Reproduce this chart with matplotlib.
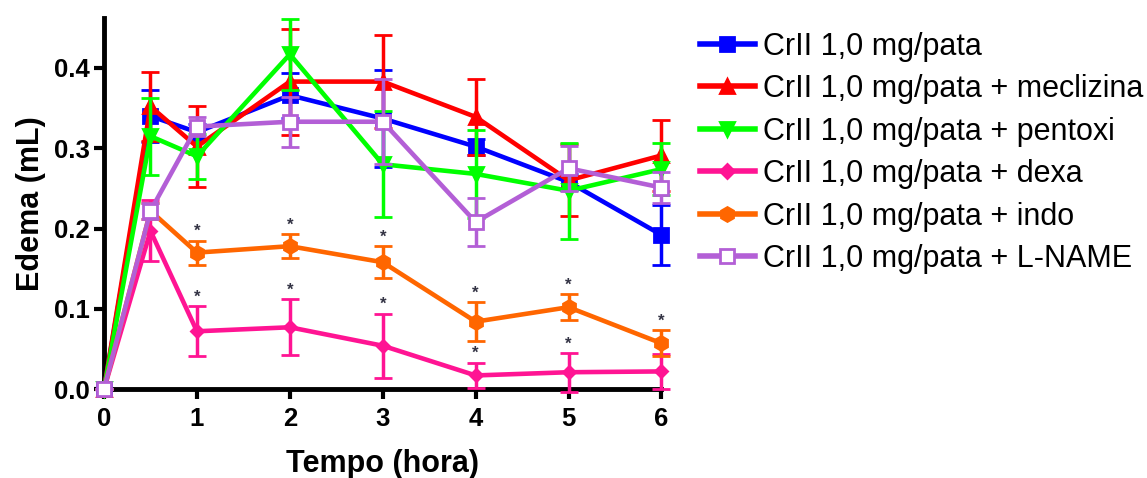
import numpy as np
import matplotlib
matplotlib.use("Agg")
import matplotlib.pyplot as plt

plt.rcParams["font.family"] = ["Liberation Sans", "DejaVu Sans"]

# time points (hours)
tempo = [0, 0.5, 1, 2, 3, 4, 5, 6]

# mean edema (mL) and SEM
crii = [0, 0.340, 0.320, 0.366, 0.337, 0.302, 0.258, 0.192]
crii_sem = [0, 0.032, 0.010, 0.028, 0.060, 0.010, 0.010, 0.037]

mecli = [0, 0.352, 0.302, 0.383, 0.383, 0.339, 0.260, 0.291]
mecli_sem = [0, 0.043, 0.050, 0.066, 0.058, 0.047, 0.045, 0.044]

pento = [0, 0.315, 0.290, 0.417, 0.280, 0.268, 0.247, 0.274]
pento_sem = [0, 0.048, 0.028, 0.044, 0.066, 0.055, 0.060, 0.032]

dexa = [0, 0.197, 0.072, 0.077, 0.054, 0.017, 0.021, 0.022]
dexa_sem = [0, 0.038, 0.031, 0.035, 0.040, 0.016, 0.024, 0.022]

indo = [0, 0.222, 0.170, 0.178, 0.158, 0.084, 0.102, 0.057]
indo_sem = [0, 0.010, 0.015, 0.015, 0.020, 0.024, 0.016, 0.016]

lname = [0, 0.222, 0.327, 0.333, 0.333, 0.208, 0.275, 0.251]
lname_sem = [0, 0.010, 0.012, 0.031, 0.053, 0.030, 0.028, 0.019]

# which points carry a significance star
indo_star = [False, False, True, True, True, True, True, True]
dexa_star = [False, False, True, True, True, True, True, False]

labels = [
    "CrII 1,0 mg/pata",
    "CrII 1,0 mg/pata + meclizina",
    "CrII 1,0 mg/pata + pentoxi",
    "CrII 1,0 mg/pata + dexa",
    "CrII 1,0 mg/pata + indo",
    "CrII 1,0 mg/pata + L-NAME",
]

series = [
    (crii, crii_sem, "#0000FF", "s", "#0000FF"),
    (mecli, mecli_sem, "#FF0000", "^", "#FF0000"),
    (pento, pento_sem, "#00FF00", "v", "#00FF00"),
    (dexa, dexa_sem, "#FF1493", "D", "#FF1493"),
    (indo, indo_sem, "#FF6600", "h", "#FF6600"),
    (lname, lname_sem, "#B35FD6", "s", "white"),
]

fig = plt.figure(figsize=(11.47, 4.78), dpi=100)
ax = fig.add_axes([0.0907, 0.186, 0.486, 0.776])

for i, (m, s, col, mk, fc) in enumerate(series):
    msize = 6.5 if mk == "D" else 10
    h = ax.errorbar(tempo, m, yerr=s, color=col, marker=mk, markersize=msize,
                    markerfacecolor=fc, markeredgecolor=col, markeredgewidth=2,
                    linewidth=3.3, elinewidth=2.5, capsize=6.5, capthick=2.5,
                    clip_on=False, zorder=3 + i)
    for art in h.lines[1] + h.lines[2]:
        art.set_clip_on(False)

# significance stars
for m, s, flags in [(indo, indo_sem, indo_star), (dexa, dexa_sem, dexa_star)]:
    for t, v, e, f in zip(tempo, m, s, flags):
        if f:
            ax.annotate("*", (t, v + e), xytext=(0, 1), textcoords="offset points",
                        ha="center", va="bottom", fontsize=12, color="#333344",
                        fontweight="bold")

ax.set_xlim(0, 6)
ax.set_ylim(0, 0.462)
ax.set_xticks([0, 1, 2, 3, 4, 5, 6])
ax.set_yticks([0.0, 0.1, 0.2, 0.3, 0.4])
ax.set_yticklabels(["0.0", "0.1", "0.2", "0.3", "0.4"])

for side in ["top", "right"]:
    ax.spines[side].set_visible(False)
for side in ["left", "bottom"]:
    ax.spines[side].set_linewidth(3.5)
ax.tick_params(width=3, length=7, labelsize=18.5, pad=3)
ax.tick_params(axis="x", pad=6)
for lab in ax.get_xticklabels() + ax.get_yticklabels():
    lab.set_fontweight("bold")

ax.set_xlabel("Tempo (hora)", fontsize=22, fontweight="bold", labelpad=13)
ax.set_ylabel("Edema (mL)", fontsize=22, fontweight="bold", labelpad=6)

leg_handles = []
for (m, s, col, mk, fc) in series:
    msize = 7 if mk == "D" else 10
    ln, = ax.plot([], [], color=col, marker=mk, markersize=msize,
                  markerfacecolor=fc, markeredgecolor=col, markeredgewidth=2,
                  linewidth=4)
    leg_handles.append(ln)

fig.legend(leg_handles, labels, loc="upper left", bbox_to_anchor=(0.61, 0.934),
           frameon=False, fontsize=22, handlelength=1.8, handletextpad=0.26,
           labelspacing=0.41, borderpad=0, borderaxespad=0)

fig.savefig("out.png", dpi=100)
